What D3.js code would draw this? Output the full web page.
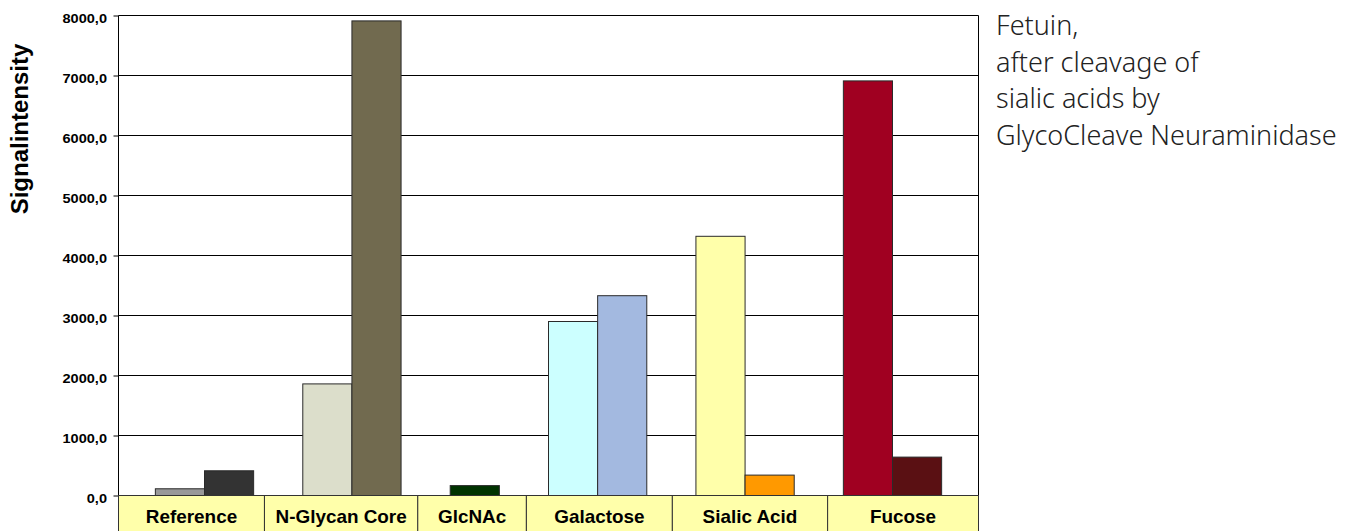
<!DOCTYPE html>
<html>
<head>
<meta charset="utf-8">
<script src="https://cdn.jsdelivr.net/npm/d3@7"></script>
<style>
  html, body { margin: 0; padding: 0; background: #fff; }
  svg { display: block; }
</style>
</head>
<body>
<svg id="chart" width="1361" height="531"></svg>
<script>
// Lectin array signal per glycan motif
const categories = ["Reference", "N-Glycan Core", "GlcNAc", "Galactose", "Sialic Acid", "Fucose"];
// first and second probe of each motif (null = no bar)
const probeA = [112, 1860, null, 2900, 4320, 6910];
const probeB = [412, 7910, 165, 3330, 340, 640];
const yTicks = [0, 1000, 2000, 3000, 4000, 5000, 6000, 7000, 8000];
const yLabel = "Signalintensity";
const noteLines = ["Fetuin,", "after cleavage of", "sialic acids by", "GlycoCleave Neuraminidase"];

// bar fills per motif
const fillA = ["#999999", "#dcdecb", null, "#ccffff", "#ffffaa", "#a00021"];
const fillB = ["#333333", "#716a4f", "#003300", "#a3b9e0", "#ff9900", "#5a1013"];

// column breaks of the label table, in bar-slot units
const cellBreaks = [2.22, 5.34, 7.55, 10.52, 13.68];

(function draw() {
  const svg = d3.select("#chart");
  const plotL = 118.5, plotR = 978.5, plotT = 15.5, plotB = 495.5;
  const arial = "'Liberation Sans', Arial, sans-serif";

  // lay bars out slot by slot: each motif's bars, then one empty slot
  const bars = [];
  let slot = 0;
  categories.forEach((c, i) => {
    [[probeA[i], fillA[i]], [probeB[i], fillB[i]]].forEach(([v, f]) => {
      if (v != null) { bars.push({ cat: c, value: v, fill: f, slot: slot }); slot += 1; }
    });
    slot += 1;
  });
  const totalSlots = slot;

  const x = d3.scaleLinear().domain([-0.75, totalSlots - 0.25]).range([plotL, plotR]);
  const y = d3.scaleLinear().domain([0, 8000]).range([plotB, plotT]);

  // gridlines
  svg.append("g").selectAll("line").data(yTicks).join("line")
    .attr("x1", plotL).attr("x2", plotR)
    .attr("y1", d => y(d)).attr("y2", d => y(d))
    .attr("stroke", "#000").attr("stroke-width", 1);

  // bars
  svg.append("g").selectAll("rect").data(bars).join("rect")
    .attr("x", d => x(d.slot))
    .attr("width", x(1) - x(0))
    .attr("y", d => y(d.value))
    .attr("height", d => y(0) - y(d.value))
    .attr("fill", d => d.fill)
    .attr("stroke", "#2a2a2a").attr("stroke-width", 1);

  // frame
  svg.append("line").attr("x1", plotL).attr("x2", plotL).attr("y1", plotT).attr("y2", plotB).attr("stroke", "#000");
  svg.append("line").attr("x1", plotR).attr("x2", plotR).attr("y1", plotT).attr("y2", plotB).attr("stroke", "#000");

  // y axis ticks and labels
  const yAxis = d3.axisLeft(y).tickValues(yTicks).tickSize(5)
    .tickFormat(d => d3.format(".1f")(d).replace(".", ","));
  const ga = svg.append("g").attr("transform", `translate(${plotL},0)`).call(yAxis);
  ga.select(".domain").remove();
  ga.selectAll(".tick line").attr("stroke", "#000");
  ga.selectAll(".tick text")
    .attr("x", 0).attr("dy", null).attr("y", 0)
    .attr("transform", "translate(-11.5,6.8) scale(1.12,1)")
    .attr("font-family", arial).attr("font-weight", "bold").attr("font-size", 13)
    .attr("fill", "#000").attr("text-anchor", "end");

  // y axis title
  svg.append("text")
    .attr("transform", "translate(28,129) rotate(-90)")
    .attr("text-anchor", "middle")
    .attr("font-family", arial).attr("font-weight", "bold").attr("font-size", 24)
    .attr("fill", "#000")
    .text(yLabel);

  // category label table
  const edges = [-0.75, ...cellBreaks, totalSlots - 0.25];
  const cells = categories.map((c, i) => ({ name: c, x0: x(edges[i]), x1: x(edges[i + 1]) }));
  const gc = svg.append("g");
  gc.selectAll("rect").data(cells).join("rect")
    .attr("x", d => d.x0).attr("width", d => d.x1 - d.x0)
    .attr("y", plotB).attr("height", 50)
    .attr("fill", "#ffffaa").attr("stroke", "#333").attr("stroke-width", 1);
  gc.selectAll("text").data(cells).join("text")
    .attr("transform", d => `translate(${(d.x0 + d.x1) / 2},522.5) scale(1.05,1)`)
    .attr("text-anchor", "middle")
    .attr("font-family", arial).attr("font-weight", "bold").attr("font-size", 18)
    .attr("fill", "#000")
    .text(d => d.name);

  // note on the right
  svg.append("g").selectAll("text").data(noteLines).join("text")
    .attr("x", 996).attr("y", (d, i) => 35 + i * 36.5)
    .attr("font-family", "'Noto Sans', 'Open Sans', sans-serif").attr("font-size", 27)
    .attr("font-weight", 300)
    .attr("fill", "#222")
    .text(d => d);
})();
</script>
</body>
</html>
